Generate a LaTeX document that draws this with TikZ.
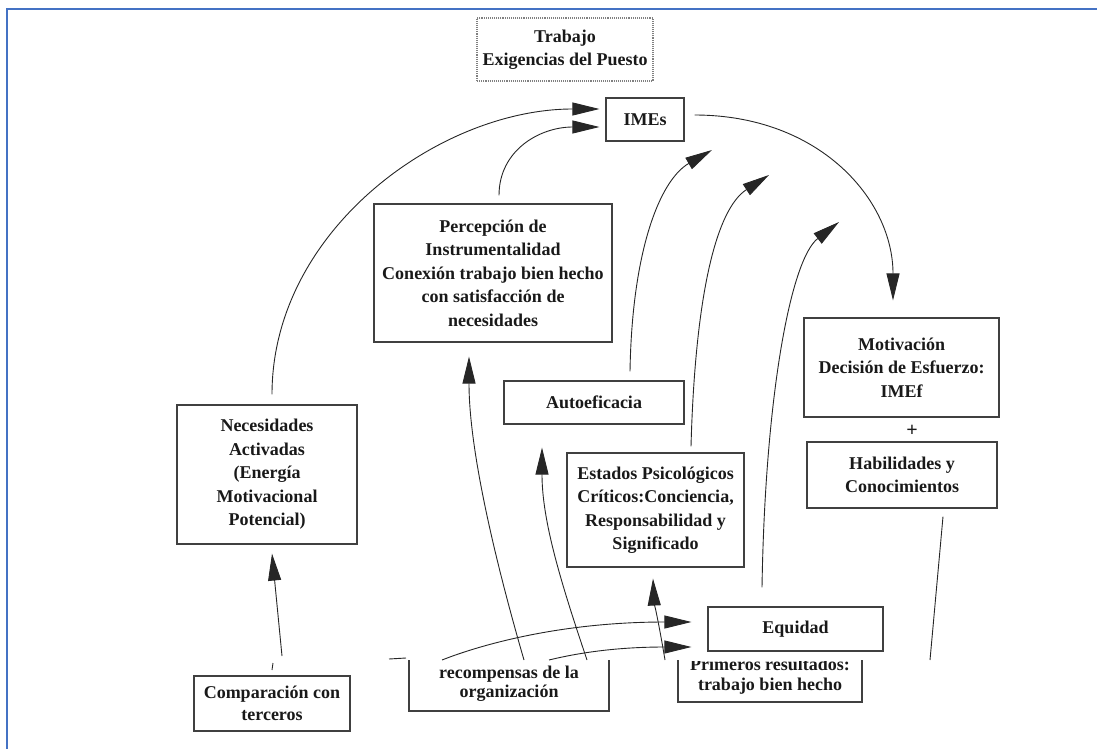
\documentclass[tikz,border=0pt]{standalone}
\usepackage{fontspec}
\setmainfont{Liberation Serif}
\usetikzlibrary{arrows.meta}
\definecolor{frameblue}{HTML}{4472C4}
\begin{document}
\begin{tikzpicture}[x=1pt,y=-1pt,
  box/.style={draw=black!75, line width=1.1pt, rectangle, align=center, inner sep=2pt,
    font=\fontsize{18}{23.5}\selectfont\bfseries, text=black!90},
  lbl/.style={align=center, inner sep=0pt, font=\fontsize{18}{19.5}\selectfont\bfseries, text=black!90},
  conn/.style={draw=black!85, line width=0.9pt, -{Triangle[length=27pt,width=13pt]}},
  plainline/.style={draw=black!85, line width=0.9pt},
  openbox/.style={draw=black!75, line width=1.1pt},
]
\useasboundingbox (0,0) rectangle (1097,749);
\draw[frameblue, line width=2pt] (7,749) -- (7,9) -- (1097,9);

% nodes
\node[box, draw=gray, densely dotted, minimum width=176pt, minimum height=63pt] (trab) at (565,49.5) {Trabajo\\Exigencias del Puesto};
\node[box, minimum width=78pt, minimum height=43pt] (imes) at (645,119.5) {IMEs};
\node[box, minimum width=238pt, minimum height=138pt] (perc) at (493,273) {Percepción de\\Instrumentalidad\\Conexión trabajo bien hecho\\con satisfacción de\\necesidades};
\node[box, minimum width=180pt, minimum height=139pt] (nec) at (267,474.5) {Necesidades\\Activadas\\(Energía\\Motivacional\\Potencial)};
\node[box, minimum width=180pt, minimum height=43pt] (auto) at (594,402.5) {Autoeficacia};
\node[box, minimum width=195pt, minimum height=99pt] (motiv) at (901.5,367.5) {Motivación\\Decisión de Esfuerzo:\\IMEf};
\node[lbl, font=\fontsize{20}{20}\selectfont\bfseries] (plus) at (912,431) {+};
\node[box, minimum width=190pt, minimum height=66pt] (hab) at (902,475) {Habilidades y\\Conocimientos};
\node[box, minimum width=177pt, minimum height=114pt] (est) at (655.5,510) {Estados Psicológicos\\Críticos:Conciencia,\\Responsabilidad y\\Significado};
\node[box, minimum width=175pt, minimum height=44pt] (equ) at (795.5,629) {Equidad};
\node[box, minimum width=156pt, minimum height=55pt, font=\fontsize{18}{22}\selectfont\bfseries] (comp) at (272,703.5) {Comparación con\\terceros};

% bottom row, cut at the top
\draw[openbox] (409,660) -- (409,711) -- (609,711) -- (609,660);
\node[lbl] (recomp) at (509,683.5) {recompensas de la\\organización};
\draw[openbox] (678,660) -- (678,702) -- (862,702) -- (862,660);
\begin{scope}
  \clip (670,661) rectangle (870,705);
  \node[lbl] (prim) at (770,676) {Primeros resultados:\\trabajo bien hecho};
\end{scope}

% free ends
\coordinate (t4) at (712,150);
\coordinate (t5) at (769,175);
\coordinate (t6) at (839,222);
\coordinate (r1) at (524,660);
\coordinate (r2) at (587,660);
\coordinate (r3) at (442,660);
\coordinate (r4) at (549,660);
\coordinate (p1) at (665,660);
\coordinate (h1) at (930,660);
\coordinate (k1) at (282,656);

% connectors
\draw[conn] ([shift={(5,-10)}]nec.north) .. controls (272,230) and (440,109) .. ([shift={(-6,-10.5)}]imes.west);
\draw[conn] ([shift={(6,-8)}]perc.north) .. controls (499,150) and (540,127) .. ([shift={(-6,7.5)}]imes.west);
\draw[conn] ([shift={(10,-4.5)}]imes.east) .. controls (820,115) and (893,200) .. ([shift={(-8.5,-17)}]motiv.north);
\draw[conn] ([shift={(36,-9)}]auto.north) .. controls (632,250) and (660,180) .. (t4);
\draw[conn] ([shift={(35.5,-6)}]est.north) .. controls (695,300) and (715,210) .. (t5);
\draw[conn] ([shift={(-33.5,-19)}]equ.north) .. controls (765,400) and (790,260) .. (t6);
\draw[conn] (r1) .. controls (495,560) and (469,450) .. ([shift={(-24,14)}]perc.south);
\draw[conn] (r2) .. controls (560,580) and (542,520) .. ([shift={(-52,23)}]auto.south);
\draw[conn] (r3) .. controls (480,645) and (560,622) .. ([shift={(-16,-7)}]equ.west);
\draw[conn] (r4) .. controls (590,650) and (630,647) .. ([shift={(-16,18)}]equ.west);
\draw[conn] (p1) .. controls (660,630) and (654,600) .. ([shift={(-2.5,11)}]est.south);
\draw[conn] (k1) -- ([shift={(5,9)}]nec.south);
\draw[plainline] ([shift={(41,8)}]hab.south) -- (h1);
\draw[plainline] (273,663) -- (272,670);
\draw[plainline] (389,659) -- (406,658);
\end{tikzpicture}
\end{document}
